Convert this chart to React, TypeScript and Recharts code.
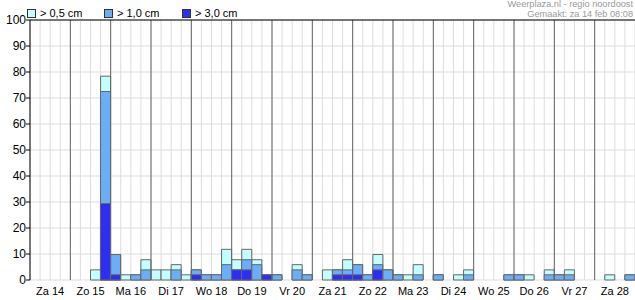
import React from 'react';
import { BarChart, Bar, XAxis, YAxis, CartesianGrid, ReferenceLine } from 'recharts';

// day labels, four 6-hour slots per day
const DAYS = ['Za 14', 'Zo 15', 'Ma 16', 'Di 17', 'Wo 18', 'Do 19', 'Vr 20', 'Za 21', 'Zo 22', 'Ma 23', 'Di 24', 'Wo 25', 'Do 26', 'Vr 27', 'Za 28'];

// kans (%) op sneeuw per slot
const P05 = [
  0, 0, 0, 0,
  0, 0, 3.9, 78.4,
  9.8, 2, 2, 7.8,
  3.9, 3.9, 5.9, 2,
  3.9, 2, 2, 11.8,
  7.8, 11.8, 7.8, 2,
  2, 0, 5.9, 2,
  0, 3.9, 3.9, 7.8,
  5.9, 2, 9.8, 3.9,
  2, 2, 5.9, 0,
  2, 0, 2, 3.9,
  0, 0, 0, 2,
  2, 2, 0, 3.9,
  2, 3.9, 0, 0,
  0, 2, 0, 2,
];
const P10 = [
  0, 0, 0, 0,
  0, 0, 0, 72.5,
  9.8, 0, 2, 3.9,
  0, 0, 3.9, 0,
  3.9, 2, 2, 5.9,
  3.9, 7.8, 5.9, 2,
  2, 0, 3.9, 2,
  0, 0, 3.9, 3.9,
  5.9, 2, 5.9, 3.9,
  2, 0, 2, 0,
  2, 0, 0, 2,
  0, 0, 0, 2,
  2, 0, 0, 2,
  2, 2, 0, 0,
  0, 0, 0, 2,
];
const P30 = [
  0, 0, 0, 0,
  0, 0, 0, 29.4,
  2, 0, 0, 0,
  0, 0, 0, 0,
  2, 0, 0, 0,
  3.9, 3.9, 0, 2,
  0, 0, 0, 0,
  0, 0, 2, 2,
  2, 0, 3.9, 0,
  0, 0, 0, 0,
  0, 0, 0, 0,
  0, 0, 0, 0,
  0, 0, 0, 0,
  0, 0, 0, 0,
  0, 0, 0, 0,
];

const Y_TICKS = [0, 10, 20, 30, 40, 50, 60, 70, 80, 90, 100];
const N_SLOTS = DAYS.length * 4;
const SLOT_TICKS = Array.from({ length: N_SLOTS + 1 }, (_, i) => i);
const DAY_LINES = SLOT_TICKS.filter(t => t > 0 && t < N_SLOTS && t % 4 === 0);

const COLORS = {
  p05: '#C4FFFF',
  p10: '#6AAEF8',
  p30: '#2D2DF5',
};

const data = P05.map((v, i) => ({
  slot: i,
  mid: i + 0.5,
  p05: v || null,
  p10: P10[i] || null,
  p30: P30[i] || null,
}));

const DayTick = (props: any) => {
  const { x, payload } = props;
  const v = payload.value;
  if (v % 4 !== 2) return null;
  return (
    <text x={x} y={295} textAnchor="middle" fontSize={11} fill="#000">
      {DAYS[(v - 2) / 4]}
    </text>
  );
};

const LegendBox = ({ left, color, label }: { left: number; color: string; label: string }) => (
  <div style={{ position: 'absolute', left, top: 7, display: 'flex', alignItems: 'center', fontSize: 11 }}>
    <span style={{ width: 7, height: 7, background: color, border: '1px solid #333', marginRight: 4 }} />
    <span>{label}</span>
  </div>
);

export default function App() {
  return (
    <div style={{ position: 'absolute', left: 0, top: 0, width: 635, height: 300, background: '#fff', fontFamily: '"Liberation Sans", Arial, sans-serif' }}>
      <LegendBox left={27} color={COLORS.p05} label="> 0,5 cm" />
      <LegendBox left={104} color={COLORS.p10} label="> 1,0 cm" />
      <LegendBox left={182} color={COLORS.p30} label="> 3,0 cm" />
      <div style={{ position: 'absolute', right: 2, top: -1, textAlign: 'right', fontSize: 9.2, lineHeight: '10px', color: '#999' }}>
        <div>Weerplaza.nl - regio noordoost</div>
        <div>Gemaakt: za 14 feb 08:08</div>
      </div>
      <BarChart
        width={635}
        height={300}
        data={data}
        margin={{ top: 20, right: 0, bottom: 0, left: 0 }}
        barCategoryGap={0}
        barGap="-100%"
        style={{ position: 'absolute', left: 0, top: 0 }}
      >
        <CartesianGrid xAxisId="num" stroke="#DDDDDD" />
        <XAxis xAxisId="cat" dataKey="slot" hide />
        <XAxis
          xAxisId="num"
          dataKey="mid"
          type="number"
          domain={[0, N_SLOTS]}
          allowDataOverflow
          ticks={SLOT_TICKS}
          interval={0}
          height={20}
          tickSize={4}
          axisLine={{ stroke: '#000' }}
          tickLine={{ stroke: '#000' }}
          tick={<DayTick />}
        />
        <YAxis
          domain={[0, 100]}
          ticks={Y_TICKS}
          interval={0}
          width={30}
          tickSize={4}
          tickMargin={0}
          axisLine={{ stroke: '#000' }}
          tickLine={{ stroke: '#000' }}
          tick={{ fontSize: 12, fill: '#000' }}
        />
        {DAY_LINES.map(d => (
          <ReferenceLine key={d} xAxisId="num" x={d} stroke="#666" />
        ))}
        <ReferenceLine xAxisId="num" y={100} stroke="#000" />
        <Bar xAxisId="cat" dataKey="p05" fill={COLORS.p05} stroke="#666" isAnimationActive={false} />
        <Bar xAxisId="cat" dataKey="p10" fill={COLORS.p10} stroke="#666" isAnimationActive={false} />
        <Bar xAxisId="cat" dataKey="p30" fill={COLORS.p30} stroke="#666" isAnimationActive={false} />
      </BarChart>
    </div>
  );
}
